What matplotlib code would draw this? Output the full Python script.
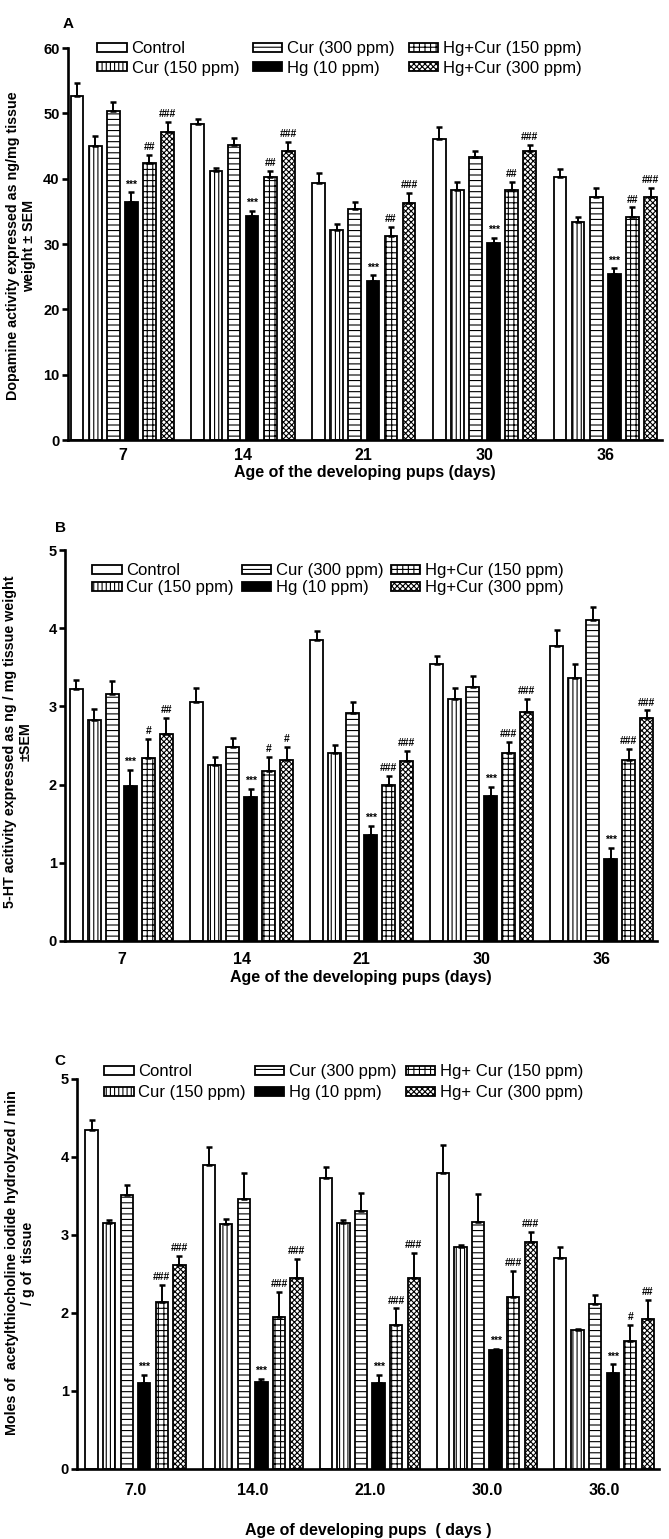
import numpy as np
import matplotlib.pyplot as plt

plt.rcParams['font.family'] = ['Liberation Sans', 'DejaVu Sans']
plt.rcParams['hatch.linewidth'] = 0.8

# groups (age of pups, days)
days_ab = ['7', '14', '21', '30', '36']
days_c = ['7.0', '14.0', '21.0', '30.0', '36.0']

names_ab = ['Control', 'Cur (150 ppm)', 'Cur (300 ppm)', 'Hg (10 ppm)',
            'Hg+Cur (150 ppm)', 'Hg+Cur (300 ppm)']
names_c = ['Control', 'Cur (150 ppm)', 'Cur (300 ppm)', 'Hg (10 ppm)',
           'Hg+ Cur (150 ppm)', 'Hg+ Cur (300 ppm)']

# A - dopamine (ng/mg tissue), rows = treatment, cols = day
da_mean = [[52.7, 48.4, 39.4, 46.0, 40.3],
           [45.0, 41.1, 32.1, 38.3, 33.4],
           [50.3, 45.2, 35.3, 43.3, 37.2],
           [36.4, 34.3, 24.4, 30.1, 25.4],
           [42.4, 40.2, 31.3, 38.2, 34.2],
           [47.2, 44.2, 36.3, 44.2, 37.2]]
da_sem = [[1.9, 0.8, 1.4, 1.9, 1.2],
          [1.5, 0.6, 1.0, 1.2, 0.8],
          [1.5, 1.0, 1.1, 1.0, 1.4],
          [1.5, 0.8, 0.8, 0.8, 0.9],
          [1.2, 1.0, 1.3, 1.3, 1.4],
          [1.5, 1.4, 1.5, 1.0, 1.4]]
da_hg = ['***'] * 5
da_hgcur150 = ['##'] * 5
da_hgcur300 = ['###'] * 5

# B - 5-HT (ng/mg tissue)
ht_mean = [[3.22, 3.06, 3.85, 3.54, 3.77],
           [2.83, 2.25, 2.41, 3.10, 3.36],
           [3.16, 2.48, 2.91, 3.25, 4.11],
           [1.98, 1.84, 1.35, 1.85, 1.05],
           [2.34, 2.18, 2.00, 2.41, 2.32],
           [2.65, 2.32, 2.30, 2.93, 2.85]]
ht_sem = [[0.12, 0.18, 0.11, 0.11, 0.21],
          [0.14, 0.10, 0.10, 0.13, 0.18],
          [0.17, 0.12, 0.15, 0.14, 0.16],
          [0.21, 0.11, 0.12, 0.12, 0.14],
          [0.24, 0.17, 0.11, 0.14, 0.14],
          [0.20, 0.16, 0.13, 0.17, 0.10]]
ht_hg = ['***'] * 5
ht_hgcur150 = ['#', '#', '###', '###', '###']
ht_hgcur300 = ['##', '#', '###', '###', '###']

# C - AChE (moles hydrolyzed / min / g tissue)
ache_mean = [[4.34, 3.90, 3.73, 3.80, 2.71],
             [3.15, 3.14, 3.15, 2.84, 1.78],
             [3.51, 3.46, 3.31, 3.17, 2.11],
             [1.10, 1.11, 1.10, 1.52, 1.23],
             [2.14, 1.95, 1.85, 2.21, 1.64],
             [2.61, 2.45, 2.45, 2.91, 1.92]]
ache_sem = [[0.13, 0.23, 0.14, 0.35, 0.14],
            [0.04, 0.07, 0.04, 0.03, 0.02],
            [0.13, 0.33, 0.23, 0.35, 0.12],
            [0.11, 0.05, 0.11, 0.02, 0.11],
            [0.22, 0.32, 0.21, 0.33, 0.21],
            [0.12, 0.24, 0.32, 0.13, 0.25]]
ache_hg = ['***'] * 5
ache_hgcur150 = ['###', '###', '###', '###', '#']
ache_hgcur300 = ['###', '###', '###', '###', '##']

# bar look, same order as the treatments
fills = ['white', 'white', 'white', 'black', 'white', 'white']
hatches = ['', '||||', '---', '', '+++', 'xxxxxx']

step = 0.15
width = 0.105

W, H = 669, 1539


def box(l, r, top, bot):
    # pixel box -> figure fraction
    return [l / W, 1 - bot / H, (r - l) / W, (bot - top) / H]


def draw(ax, means, sems, marks, labels, yticks, xlim, xlabel, labelpad, tickpad):
    x0 = np.arange(len(labels))
    for j in range(6):
        x = x0 + (j - 2.5) * step
        ax.bar(x, means[j], width, color=fills[j], edgecolor='black',
               hatch=hatches[j], linewidth=1.3)
        ax.errorbar(x, means[j], yerr=[np.zeros(len(x)), sems[j]], fmt='none',
                    ecolor='black', elinewidth=1.4, capsize=2.2, capthick=1.8)
    # significance marks above Hg, Hg+Cur150, Hg+Cur300
    for j, mk in zip([3, 4, 5], marks):
        x = x0 + (j - 2.5) * step
        for i in range(len(x)):
            ax.annotate(mk[i], (x[i], means[j][i] + sems[j][i]),
                        xytext=(0, 2), textcoords='offset points',
                        ha='center', va='bottom', fontsize=7.5,
                        fontweight='bold')
    ax.set_xticks(x0)
    ax.set_xticklabels(labels, fontsize=11.5, fontweight='bold')
    ax.set_xlim(*xlim)
    ax.set_ylim(0, yticks[-1])
    ax.set_yticks(yticks)
    ax.set_yticklabels([str(t) for t in yticks], fontsize=10.5, fontweight='bold')
    ax.set_xlabel(xlabel, fontsize=11.5, fontweight='bold', labelpad=labelpad)
    ax.spines['top'].set_visible(False)
    ax.spines['right'].set_visible(False)
    ax.spines['left'].set_linewidth(1.9)
    ax.spines['bottom'].set_linewidth(1.9)
    ax.tick_params(axis='x', length=0, pad=tickpad)
    ax.tick_params(axis='y', length=4.5, width=1.9, pad=1.5)


def legend(ax, names, x, y, fs, cs, ls):
    hs = [plt.Rectangle((0, 0), 1, 1, facecolor=fills[j], edgecolor='black',
                        hatch=hatches[j], linewidth=1.3) for j in range(6)]
    ax.legend(hs, names, ncol=3, loc='upper left', bbox_to_anchor=(x / W, 1 - y / H),
              bbox_transform=fig.transFigure, frameon=False, fontsize=fs,
              handlelength=1.75, handleheight=0.45, handletextpad=0.3,
              columnspacing=cs, labelspacing=ls, borderpad=0)


fig = plt.figure(figsize=(6.69, 15.39), dpi=100)

axA = fig.add_axes(box(68, 662, 48, 440))
axB = fig.add_axes(box(65, 657, 550, 941))
axC = fig.add_axes(box(77, 659, 1079, 1469))

draw(axA, da_mean, da_sem, [da_hg, da_hgcur150, da_hgcur300], days_ab,
     [0, 10, 20, 30, 40, 50, 60], (-0.45, 4.47),
     'Age of the developing pups (days)', 1, 6)
draw(axB, ht_mean, ht_sem, [ht_hg, ht_hgcur150, ht_hgcur300], days_ab,
     [0, 1, 2, 3, 4, 5], (-0.47, 4.46),
     'Age of the developing pups (days)', 2, 8)
draw(axC, ache_mean, ache_sem, [ache_hg, ache_hgcur150, ache_hgcur300], days_c,
     [0, 1, 2, 3, 4, 5], (-0.5, 4.47),
     'Age of developing pups  ( days )', 18, 10)

legend(axA, names_ab, 89, 33, 12, 0.85, 0.25)
legend(axB, names_ab, 84, 555, 12, 0.45, 0.1)
legend(axC, names_c, 96, 1056, 12, 0.55, 0.37)

fig.text(68 / W, 1 - 24 / H, 'A', fontsize=11, fontweight='bold', ha='center', va='center')
fig.text(60 / W, 1 - 528 / H, 'B', fontsize=11, fontweight='bold', ha='center', va='center')
fig.text(60 / W, 1 - 1061 / H, 'C', fontsize=11, fontweight='bold', ha='center', va='center')

fig.text(21 / W, 1 - 246 / H, 'Dopamine activity expressed as ng/mg tissue\nweight \u00b1 SEM',
         rotation=90, ha='center', va='center', fontsize=10.3, fontweight='bold',
         multialignment='center')
fig.text(18 / W, 1 - 742 / H, '5-HT acitivity expressed as ng / mg tissue weight\n\u00b1SEM',
         rotation=90, ha='center', va='center', fontsize=10.3, fontweight='bold',
         multialignment='center')
fig.text(20 / W, 1 - 1263 / H, 'Moles of  acetylthiocholine iodide hydrolyzed / min\n/ g of  tissue',
         rotation=90, ha='center', va='center', fontsize=10.3, fontweight='bold',
         multialignment='center')

fig.savefig('out.png', dpi=100)
